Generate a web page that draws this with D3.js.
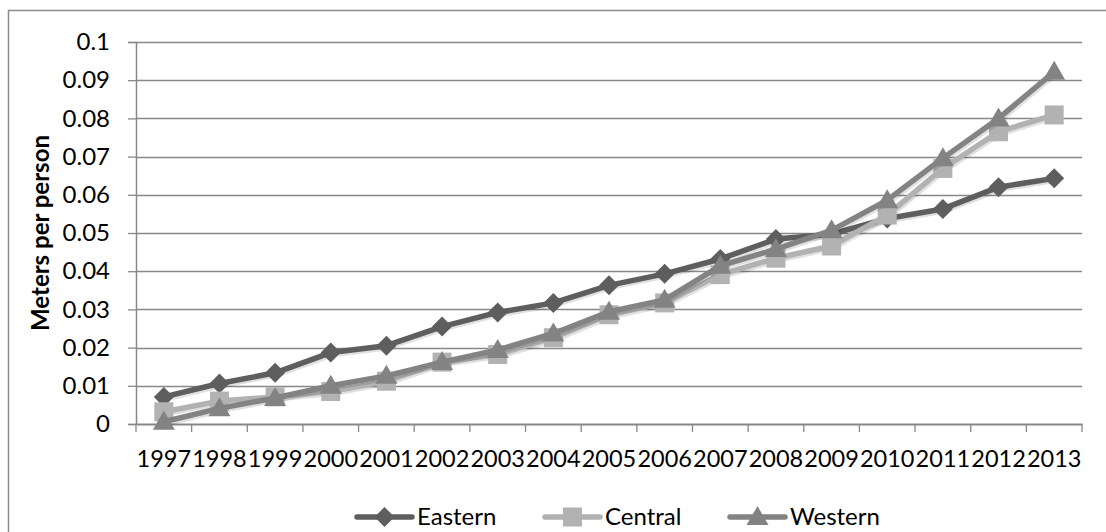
<!DOCTYPE html>
<html>
<head>
<meta charset="utf-8">
<script src="https://cdn.jsdelivr.net/npm/d3@7"></script>
<style>
  html, body { margin: 0; padding: 0; background: #fff; }
  svg { display: block; }
  text { font-family: Lato, "Open Sans", sans-serif; fill: #000; }
</style>
</head>
<body>
<svg id="chart" width="1106" height="532"></svg>
<script>
const years = ["1997","1998","1999","2000","2001","2002","2003","2004","2005","2006","2007","2008","2009","2010","2011","2012","2013"];
const eastern = [0.0071,0.0106,0.0134,0.0187,0.0205,0.0255,0.0292,0.0317,0.0363,0.0393,0.0432,0.0484,0.0497,0.0538,0.0563,0.0620,0.0643];
const central = [0.0032,0.0060,0.0071,0.0085,0.0112,0.0162,0.0182,0.0226,0.0286,0.0317,0.0391,0.0434,0.0466,0.0547,0.0669,0.0765,0.0809];
const western = [0.0006,0.0041,0.0068,0.0100,0.0126,0.0162,0.0194,0.0237,0.0294,0.0325,0.0414,0.0458,0.0507,0.0586,0.0696,0.0800,0.0922];
const seriesNames = ["Eastern","Central","Western"];
const yTicks = [0,0.01,0.02,0.03,0.04,0.05,0.06,0.07,0.08,0.09,0.1];
const yTitle = "Meters per person";

(function () {
const colors = {Eastern:"#5e5e5e", Central:"#b2b2b2", Western:"#838383"};
const shapes = {Eastern:"diamond", Central:"square", Western:"triangle"};
const series = [
  {name:"Eastern", values:eastern},
  {name:"Central", values:central},
  {name:"Western", values:western}
];

const svg = d3.select("#chart");
const pLeft = 136, pRight = 1082, pTop = 42, pBottom = 424;
const x = d3.scaleBand().domain(years).range([pLeft, pRight]).padding(0);
const y = d3.scaleLinear().domain([0, 0.1]).range([pBottom, pTop]);
const gridColor = "#888888";

// outer frame
svg.append("rect").attr("x", 8.5).attr("y", 10.5).attr("width", 1110).attr("height", 540)
  .attr("fill", "none").attr("stroke", "#8c8c8c").attr("stroke-width", 1.5);

// gridlines
svg.append("g").selectAll("line").data(yTicks.slice(1)).join("line")
  .attr("x1", pLeft).attr("x2", pRight)
  .attr("y1", d => Math.round(y(d)) + 0.5).attr("y2", d => Math.round(y(d)) + 0.5)
  .attr("stroke", gridColor).attr("stroke-width", 1.3);

// y axis
const yAxis = d3.axisLeft(y).tickValues(yTicks).tickSize(8).tickPadding(18)
  .tickFormat(d => d === 0 ? "0" : String(+d.toFixed(2)));
const gy = svg.append("g").attr("transform", `translate(${pLeft},0)`).call(yAxis);
gy.select(".domain").attr("stroke", gridColor).attr("stroke-width", 1.5);
gy.selectAll(".tick line").attr("stroke", gridColor).attr("stroke-width", 1.3);
gy.selectAll(".tick text").attr("font-size", 24).attr("font-family", "Lato").attr("fill", "#000");

// x axis
const xAxis = d3.axisBottom(x).tickSize(0).tickPadding(38);
const gx = svg.append("g").attr("transform", `translate(0,${pBottom})`).call(xAxis);
gx.select(".domain").attr("stroke", gridColor).attr("stroke-width", 2);
gx.selectAll(".tick text").attr("font-size", 23.5).attr("font-family", "Lato").attr("fill", "#000").attr("dy", "0.2em");
// category boundary ticks
const bounds = years.map(d => x(d)).concat([pRight]);
gx.append("g").selectAll("line").data(bounds).join("line")
  .attr("x1", d => d).attr("x2", d => d).attr("y1", 0).attr("y2", 8)
  .attr("stroke", gridColor).attr("stroke-width", 1.3);

// y title
svg.append("text")
  .attr("transform", `translate(49,${(pTop + pBottom) / 2}) rotate(-90)`)
  .attr("text-anchor", "middle").attr("font-size", 24).attr("font-weight", "bold")
  .text(yTitle);

function markerPath(shape) {
  if (shape === "diamond") return "M0,-10 L10,0 L0,10 L-10,0 Z";
  if (shape === "square") return "M-9.5,-9.5 H9.5 V9.5 H-9.5 Z";
  return "M0,-11 L11,8 L-11,8 Z";
}

const cx = i => x(years[i]) + x.bandwidth() / 2;
const line = d3.line().x((d, i) => cx(i)).y(d => y(d));

const plot = svg.append("g");
series.forEach(s => {
  const g = plot.append("g");
  g.append("path").attr("d", line(s.values)).attr("transform", "translate(1.5,2)")
    .attr("fill", "none").attr("stroke", "#000").attr("stroke-opacity", 0.12)
    .attr("stroke-width", 5.5).attr("stroke-linejoin", "round");
  g.append("path").attr("d", line(s.values))
    .attr("fill", "none").attr("stroke", colors[s.name])
    .attr("stroke-width", 5.5).attr("stroke-linejoin", "round");
  g.selectAll("path.m").data(s.values).join("path").attr("class", "m")
    .attr("transform", (d, i) => `translate(${cx(i)},${y(d)})`)
    .attr("d", markerPath(shapes[s.name]))
    .attr("fill", colors[s.name]);
});

// legend
const legendX = {Eastern:357, Central:545, Western:730};
const ly = 517;
const lg = svg.append("g");
seriesNames.forEach(name => {
  const x0 = legendX[name];
  lg.append("line").attr("x1", x0).attr("x2", x0 + 55).attr("y1", ly).attr("y2", ly)
    .attr("stroke", colors[name]).attr("stroke-width", 5.5).attr("stroke-linecap", "round");
  lg.append("path").attr("transform", `translate(${x0 + 27.5},${ly})`)
    .attr("d", markerPath(shapes[name])).attr("fill", colors[name]);
  lg.append("text").attr("x", x0 + 60).attr("y", ly).attr("dy", "0.35em")
    .attr("font-size", 24).text(name);
});
})();
</script>
</body>
</html>
